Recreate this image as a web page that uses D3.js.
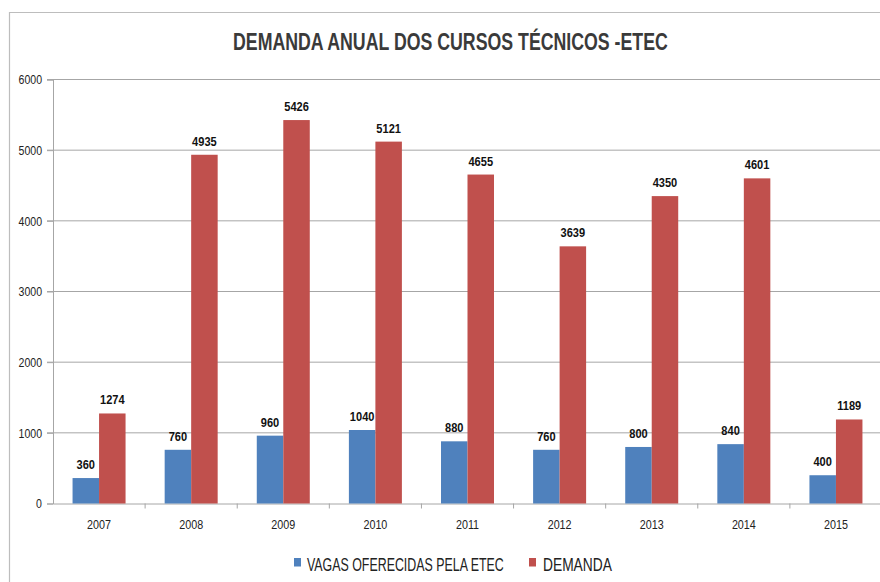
<!DOCTYPE html>
<html><head><meta charset="utf-8">
<script src="https://cdn.jsdelivr.net/npm/d3@7"></script>
<style>body{margin:0;background:#fff}svg{display:block}</style>
</head><body>
<svg id="c" width="880" height="582"></svg>
<script>
const title = "DEMANDA ANUAL DOS CURSOS TÉCNICOS -ETEC";
const years = ["2007","2008","2009","2010","2011","2012","2013","2014","2015"];
const vagas = [360,760,960,1040,880,760,800,840,400];
const demanda = [1274,4935,5426,5121,4655,3639,4350,4601,1189];
const yTicks = [0,1000,2000,3000,4000,5000,6000];
const seriesNames = ["VAGAS OFERECIDAS PELA ETEC","DEMANDA"];
const colors = ["#4F81BD","#C0504D"];

(function(){
const font = "'Liberation Sans',Arial,sans-serif";
const svg = d3.select("#c");
function condense(sel, f){
  sel.each(function(){
    const w = this.getComputedTextLength();
    d3.select(this).attr("textLength", w*f).attr("lengthAdjust","spacingAndGlyphs");
  });
}
// text squeezed horizontally with a transform so its box stays true
function squeezed(parent, tx, ty, str, size, weight, targetW, anchor){
  const g = parent.append("g");
  const t = g.append("text").attr("font-family",font).attr("font-size",size)
    .attr("font-weight",weight).attr("fill","#222").text(str);
  const w = t.node().getComputedTextLength();
  const s = targetW / w;
  const x0 = anchor==="middle" ? tx - targetW/2 : tx;
  g.attr("transform",`translate(${x0},${ty}) scale(${s},1)`);
  return t;
}
svg.append("path").attr("d","M9.5,582 V12.5 H880").attr("fill","none").attr("stroke","#bdbdbd").attr("stroke-width",1.2);

const pl=53, pr=882, pt=79.5, pb=503.5;
const x = d3.scaleBand().domain(years).range([pl,pr]);
const y = d3.scaleLinear().domain([0,6000]).range([pb,pt]);
const sub = d3.scaleBand().domain([0,1]).range([0, 53]);

svg.append("g").selectAll("line").data(yTicks.filter(d=>d>0)).join("line")
  .attr("x1",pl-6).attr("x2",pr).attr("y1",d=>y(d)).attr("y2",d=>y(d))
  .attr("stroke","#a6a6a6").attr("stroke-width",1);

const ya = svg.append("g").attr("transform",`translate(${pl},0)`)
  .call(d3.axisLeft(y).tickValues(yTicks).tickSize(6).tickFormat(d3.format("d")));
ya.select(".domain").attr("stroke","#a6a6a6");
ya.selectAll(".tick line").attr("stroke","#a6a6a6");
ya.selectAll("text").attr("font-family",font).attr("font-size",12).attr("fill","#222").attr("x",-11).attr("dy","0.35em");
condense(ya.selectAll("text"),0.88);

const xa = svg.append("g").attr("transform",`translate(0,${pb})`)
  .call(d3.axisBottom(x).tickSize(0).tickPadding(17));
xa.select(".domain").attr("stroke","#a6a6a6");
xa.selectAll("text").attr("font-family",font).attr("font-size",12.5).attr("fill","#222");
condense(xa.selectAll("text"),0.86);
svg.append("g").selectAll("line").data(years).join("line")
  .attr("x1",(d,i)=>pl+(i+1)*x.step()).attr("x2",(d,i)=>pl+(i+1)*x.step())
  .attr("y1",pb).attr("y2",pb+5).attr("stroke","#a6a6a6");

const series=[vagas,demanda];
const off = (x.bandwidth()-53)/2;
series.forEach((vals,si)=>{
  const g = svg.append("g");
  g.selectAll("rect").data(vals).join("rect")
    .attr("x",(d,i)=>x(years[i])+off+sub(si))
    .attr("width",sub.bandwidth())
    .attr("y",d=>y(d)).attr("height",d=>pb-y(d))
    .attr("fill",colors[si]);
  const t = g.selectAll("text").data(vals).join("text")
    .attr("x",(d,i)=>x(years[i])+off+sub(si)+sub.bandwidth()/2)
    .attr("y",d=>y(d)-9)
    .attr("text-anchor","middle")
    .attr("font-family",font).attr("font-weight","bold").attr("font-size",13).attr("fill","#111")
    .text(d=>d);
  condense(t,0.85);
});

squeezed(svg, 450.5, 50, title, 24, "bold", 435, "middle").attr("fill","#3a3a3a");

const leg=[{x:294,tx:307,w:197},{x:529,tx:543,w:69}];
seriesNames.forEach((n,i)=>{
  svg.append("rect").attr("x",leg[i].x).attr("y",558).attr("width",7).attr("height",8.5).attr("fill",colors[i]);
  squeezed(svg, leg[i].tx, 570.5, n, 18, "normal", leg[i].w, "start");
});
})();
</script>
</body></html>
